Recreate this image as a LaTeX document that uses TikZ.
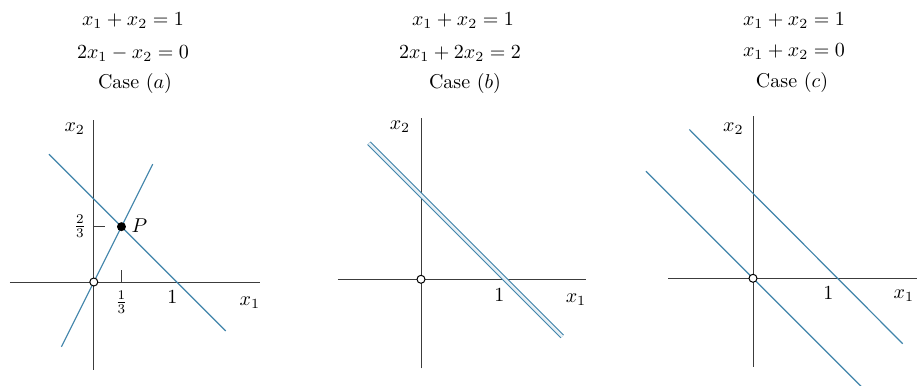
\documentclass[tikz,border=0pt]{standalone}
\usepackage{graphicx}
\newcommand{\figtxt}[1]{\scalebox{2.0}{#1}}
\newcommand{\figfrac}[1]{\scalebox{1.9}{#1}}
\definecolor{lineblue}{RGB}{64,132,170}
\definecolor{axisgray}{RGB}{60,60,60}
\begin{document}
\begin{tikzpicture}[x=1pt,y=-1pt,
  axis/.style={draw=axisgray,line width=1pt},
  tickmark/.style={draw=axisgray,line width=0.9pt},
  graphline/.style={draw=lineblue,line width=1.2pt},
  dblline/.style={draw=lineblue,double=lineblue!12,double distance=2.6pt,line width=1.1pt},
  opendot/.style={circle,draw=black,fill=white,line width=1pt,inner sep=0pt,minimum size=8pt},
  soliddot/.style={circle,fill=black,inner sep=0pt,minimum size=9pt},
  lbl/.style={inner sep=0pt},
  hdr/.style={inner sep=0pt,anchor=base}]
\useasboundingbox (0,0) rectangle (917,385);
\fill[white] (0,0) rectangle (917,385);

% headers
\node[hdr] (ha1) at (133,26) {\figtxt{$x_1 + x_2 = 1$}};
\node[hdr] (ha2) at (133,59) {\figtxt{$2x_1 - x_2 = 0$}};
\node[hdr] (ha3) at (135,89) {\figtxt{Case ($a$)}};
\node[hdr] (hb1) at (463,26) {\figtxt{$x_1 + x_2 = 1$}};
\node[hdr] (hb2) at (460,59) {\figtxt{$2x_1 + 2x_2 = 2$}};
\node[hdr] (hb3) at (465,89) {\figtxt{Case ($b$)}};
\node[hdr] (hc1) at (794,26) {\figtxt{$x_1 + x_2 = 1$}};
\node[hdr] (hc2) at (794,57) {\figtxt{$x_1 + x_2 = 0$}};
\node[hdr] (hc3) at (792,88) {\figtxt{Case ($c$)}};

% Panel a
\begin{scope}[shift={(93.8,282)},x=83pt,y=83pt]
\draw[axis] (-1.01,0) -- (2.0,0);
\draw[axis] (0,-1.06) -- (0,1.95);
\draw[tickmark] (1/3,0) -- (1/3,0.145);
\draw[tickmark] (0,2/3) -- (0.13,2/3);
\draw[graphline] (-0.54,1.54) -- (1.59,-0.59);
\draw[graphline] (-0.39,-0.78) -- (0.71,1.42);
\node[opendot] (aO) at (0,0) {};
\node[soliddot] (aP) at (1/3,2/3) {};
\node[lbl] (aP-l) at (0.55,0.68) {\figtxt{$P$}};
\node[lbl] (a23) at (-0.166,0.67) {\figfrac{$\frac{2}{3}$}};
\node[lbl] (a13) at (1/3,-0.24) {\figfrac{$\frac{1}{3}$}};
\node[lbl] (a1) at (0.946,-0.18) {\figtxt{$1$}};
\node[lbl] (ax1) at (1.88,-0.25) {\figtxt{$x_1$}};
\node[lbl] (ax2) at (-0.23,1.85) {\figtxt{$x_2$}};
\end{scope}

% Panel b
\begin{scope}[shift={(421,279.3)},x=84pt,y=84pt]
\draw[axis] (-0.99,0) -- (1.96,0);
\draw[axis] (0,-1.06) -- (0,1.92);
\draw[dblline] (-0.62,1.62) -- (1.68,-0.68);
\node[opendot] (bO) at (0,0) {};
\node[lbl] (b1) at (0.933,-0.187) {\figtxt{$1$}};
\node[lbl] (bx1) at (1.845,-0.247) {\figtxt{$x_1$}};
\node[lbl] (bx2) at (-0.25,1.82) {\figtxt{$x_2$}};
\end{scope}

% Panel c
\begin{scope}[shift={(753,278.3)},x=84.3pt,y=84.3pt]
\draw[axis] (-1.005,0) -- (2.0,0);
\draw[axis] (0,-1.05) -- (0,1.92);
\draw[graphline] (-0.755,1.765) -- (1.776,-0.776);
\draw[graphline] (-1.27,1.27) -- (1.32,-1.32);
\node[opendot] (cO) at (0,0) {};
\node[lbl] (c1) at (0.893,-0.18) {\figtxt{$1$}};
\node[lbl] (cx1) at (1.79,-0.21) {\figtxt{$x_1$}};
\node[lbl] (cx2) at (-0.233,1.78) {\figtxt{$x_2$}};
\end{scope}
\end{tikzpicture}
\end{document}
